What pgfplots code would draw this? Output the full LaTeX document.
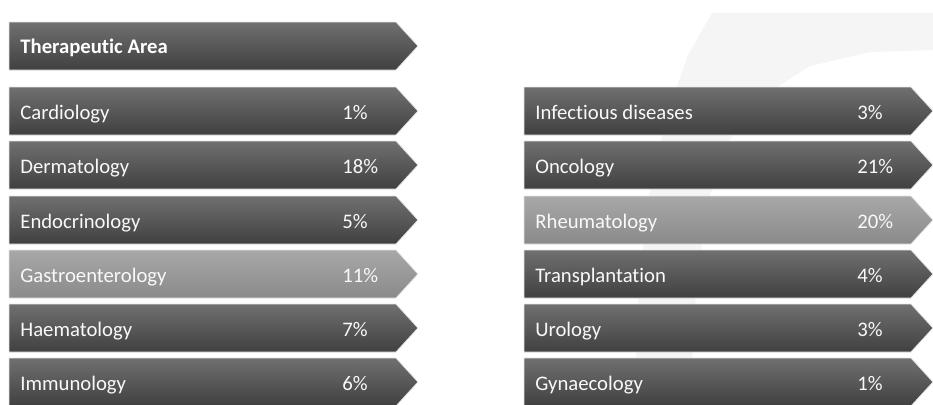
\documentclass[border=0pt]{standalone}
\usepackage{pgfplots}
\pgfplotsset{compat=1.18}
\usepackage{fontspec}
\setmainfont{Carlito}[Ligatures=NoCommon]
\definecolor{darktop}{HTML}{707070}
\definecolor{darkbot}{HTML}{404040}
\definecolor{lighttop}{HTML}{A8A8A8}
\definecolor{lightbot}{HTML}{8A8A8A}
\definecolor{swoosh}{HTML}{F5F5F5}

% arrow tile: x left, y top, top colour, bottom colour
\newcommand{\tile}[4]{%
  \addplot[draw=white!80!gray, line width=0.4pt, top color=#3, bottom color=#4]
    coordinates {(#1,#2) ({#1+387},#2) ({#1+409},{#2+24}) ({#1+387},{#2+48}) (#1,{#2+48})} -- cycle;}
% label and share: x left, y top, name, share
\newcommand{\entry}[4]{%
  \node[anchor=base west, inner sep=0pt, text=white!95!gray, font=\fontsize{10.35}{12}\selectfont] at (axis cs:{#1+11},{#2+32}) {#3};
  \node[anchor=base west, inner sep=0pt, text=white!95!gray, font=\fontsize{10.35}{12}\selectfont] at (axis cs:{#1+333},{#2+32}) {#4};}

\begin{document}
\begin{tikzpicture}
\begin{axis}[
    width=466.5pt, height=202pt, scale only axis,
    xmin=0, xmax=933, ymin=0, ymax=404,
    y dir=reverse,
    hide axis,
]
% keep the whole axis area in the picture
\path (axis cs:0,0) rectangle (axis cs:933,404);
% faint background swoosh
\addplot[draw=none, fill=swoosh] coordinates {
    (712,13) (933,13) (933,50) (870,52) (810,66) (765,95) (730,140) (708,200) (696,290) (690,404)
    (634,404) (638,300) (648,200) (665,120) (688,55)} -- cycle;

% header
\tile{9}{22}{darktop}{darkbot}
\node[anchor=base west, inner sep=0pt, text=white, font=\bfseries\fontsize{10.35}{12}\selectfont] at (axis cs:20,53) {Therapeutic Area};

% left column
\tile{9}{87}{darktop}{darkbot}
\tile{9}{141}{darktop}{darkbot}
\tile{9}{196}{darktop}{darkbot}
\tile{9}{250}{lighttop}{lightbot}
\tile{9}{304}{darktop}{darkbot}
\tile{9}{358}{darktop}{darkbot}
\entry{9}{87}{Cardiology}{1\%}
\entry{9}{141}{Dermatology}{18\%}
\entry{9}{196}{Endocrinology}{5\%}
\entry{9}{250}{Gastroenterology}{11\%}
\entry{9}{304}{Haematology}{7\%}
\entry{9}{358}{Immunology}{6\%}

% right column
\tile{524}{87}{darktop}{darkbot}
\tile{524}{141}{darktop}{darkbot}
\tile{524}{196}{lighttop}{lightbot}
\tile{524}{250}{darktop}{darkbot}
\tile{524}{304}{darktop}{darkbot}
\tile{524}{358}{darktop}{darkbot}
\entry{524}{87}{Infectious diseases}{3\%}
\entry{524}{141}{Oncology}{21\%}
\entry{524}{196}{Rheumatology}{20\%}
\entry{524}{250}{Transplantation}{4\%}
\entry{524}{304}{Urology}{3\%}
\entry{524}{358}{Gynaecology}{1\%}
\end{axis}
\end{tikzpicture}
\end{document}
